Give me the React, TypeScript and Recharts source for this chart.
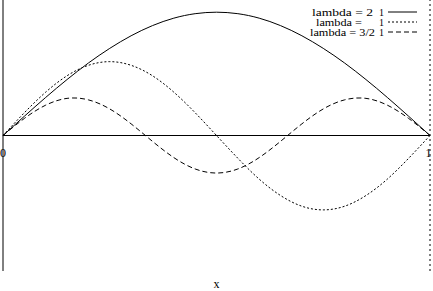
import { LineChart, Line, XAxis, YAxis, ReferenceLine, ReferenceDot, Legend } from "recharts";

const X = [0, 0.05, 0.1, 0.15, 0.2, 0.25, 0.3, 0.35, 0.4, 0.45, 0.5, 0.55, 0.6, 0.65, 0.7, 0.75, 0.8, 0.85, 0.9, 0.95, 1];

// solid curve, one hump
const LAMBDA_2 = [0, 0.142, 0.281, 0.413, 0.535, 0.643, 0.736, 0.811, 0.866, 0.899, 0.91, 0.899, 0.866, 0.811, 0.736, 0.643, 0.535, 0.413, 0.281, 0.142, 0];
// dotted curve, up then down
const LAMBDA_1 = [0, 0.168, 0.32, 0.441, 0.518, 0.545, 0.518, 0.441, 0.32, 0.168, 0, -0.168, -0.322, -0.443, -0.522, -0.549, -0.522, -0.443, -0.322, -0.168, 0];
// dashed curve, up down up
const LAMBDA_3_2 = [0, 0.126, 0.224, 0.274, 0.263, 0.196, 0.086, -0.043, -0.163, -0.247, -0.277, -0.247, -0.163, -0.043, 0.086, 0.196, 0.263, 0.274, 0.224, 0.126, 0];

const NAMES = ["lambda = 2", "lambda =", "lambda = 3/2"];
const SUFFIX = "1";
const DASHES = [undefined, "2 2", "5 3"];
const END_LABELS = ["0", "1"];

const data = X.map((x, i) => ({ x, a: LAMBDA_2[i], b: LAMBDA_1[i], c: LAMBDA_3_2[i] }));

const FONT = "'Liberation Serif', 'Times New Roman', serif";

function KeyBox() {
  const widths = [61, 46, 65];
  const starts = [12, 16, 10];
  return (
    <svg width={133} height={40} style={{ fontFamily: FONT }}>
      {NAMES.map((name, i) => {
        const y = 12 + i * 10;
        return (
          <g key={name}>
            <text x={starts[i]} y={y + 4} fontSize={10} textLength={widths[i]} lengthAdjust="spacingAndGlyphs" fill="#000">
              {name}
            </text>
            <text x={81.5} y={y + 4} fontSize={10} textAnchor="middle" fill="#000">
              {SUFFIX}
            </text>
            <line x1={88} x2={117} y1={y} y2={y} stroke="#000" strokeDasharray={DASHES[i]} />
          </g>
        );
      })}
    </svg>
  );
}

function endLabel(text: string, dx: number) {
  return (props: any) => {
    const vb = props.viewBox || {};
    const cx = (vb.x ?? 0) + (vb.width ?? 0) / 2;
    const cy = (vb.y ?? 0) + (vb.height ?? 0) / 2;
    return (
      <text x={cx + dx} y={cy + 21} fontSize={12} textAnchor="middle" fill="#000" style={{ fontFamily: FONT }}>
        {text}
      </text>
    );
  };
}

export default function App() {
  return (
    <div style={{ position: "absolute", left: 0, top: 0, background: "#fff" }}>
      <LineChart
        width={433}
        height={291}
        data={data}
        margin={{ top: 0, right: 3, bottom: 0, left: 3 }}
        style={{ fontFamily: FONT }}
      >
        <XAxis
          dataKey="x"
          type="number"
          domain={[0, 1]}
          tick={false}
          tickLine={false}
          axisLine={false}
          height={20}
          label={{ value: "x", position: "insideBottom", offset: 3, fill: "#000", fontSize: 12 }}
        />
        <YAxis hide type="number" domain={[-1, 1]} />
        <ReferenceLine x={0} stroke="#000" />
        <ReferenceLine x={1} stroke="#000" strokeDasharray="2 3" />
        <ReferenceLine y={0} stroke="#000" />
        <ReferenceDot x={0} y={0} r={0} fill="none" stroke="none" label={endLabel(END_LABELS[0], 0)} />
        <ReferenceDot x={1} y={0} r={0} fill="none" stroke="none" label={endLabel(END_LABELS[1], -1.5)} />
        <Legend
          layout="vertical"
          align="center"
          verticalAlign="middle"
          content={() => <KeyBox />}
          wrapperStyle={{ position: "absolute", top: 0, left: 300, width: 133, height: 40 }}
        />
        <Line type="natural" dataKey="a" name={NAMES[0]} stroke="#000" strokeWidth={1} dot={false} isAnimationActive={false} />
        <Line type="natural" dataKey="b" name={NAMES[1]} stroke="#000" strokeWidth={1} strokeDasharray={DASHES[1]} dot={false} isAnimationActive={false} />
        <Line type="natural" dataKey="c" name={NAMES[2]} stroke="#000" strokeWidth={1} strokeDasharray={DASHES[2]} dot={false} isAnimationActive={false} />
      </LineChart>
    </div>
  );
}
